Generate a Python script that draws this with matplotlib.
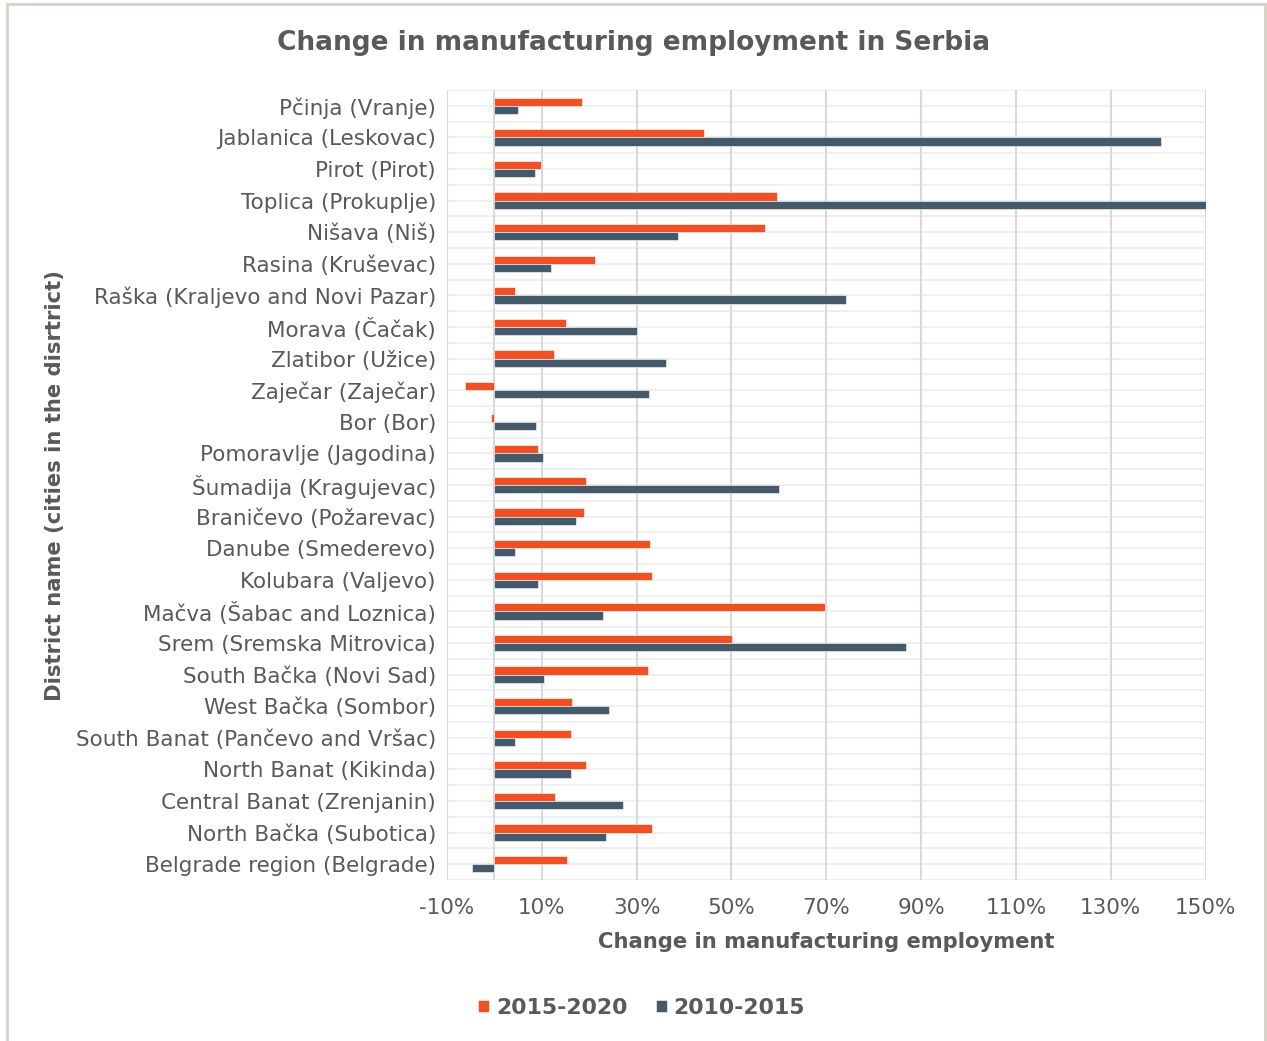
import matplotlib.pyplot as plt
import numpy as np
from matplotlib.patches import Rectangle

districts = ['Pčinja (Vranje)', 'Jablanica (Leskovac)', 'Pirot (Pirot)',
             'Toplica (Prokuplje)', 'Nišava (Niš)', 'Rasina (Kruševac)',
             'Raška (Kraljevo and Novi Pazar)', 'Morava (Čačak)', 'Zlatibor (Užice)',
             'Zaječar (Zaječar)', 'Bor (Bor)', 'Pomoravlje (Jagodina)',
             'Šumadija (Kragujevac)', 'Braničevo (Požarevac)', 'Danube (Smederevo)',
             'Kolubara (Valjevo)', 'Mačva (Šabac and Loznica)', 'Srem (Sremska Mitrovica)',
             'South Bačka (Novi Sad)', 'West Bačka (Sombor)',
             'South Banat (Pančevo and Vršac)', 'North Banat (Kikinda)',
             'Central Banat (Zrenjanin)', 'North Bačka (Subotica)',
             'Belgrade region (Belgrade)']

# percent change per district
chg_2015_2020 = [18.4, 44.3, 9.9, 59.7, 57.1, 21.3, 4.4, 15.1, 12.6, -6.3, -0.7, 9.1,
                 19.4, 18.9, 32.8, 33.3, 69.7, 50.1, 32.4, 16.4, 16.1, 19.3, 12.7,
                 33.3, 15.4]
chg_2010_2015 = [4.9, 140.7, 8.5, 162.0, 38.8, 11.9, 74.1, 30.1, 36.2, 32.6, 8.7, 10.3,
                 60.1, 17.2, 4.4, 9.1, 22.9, 86.9, 10.5, 24.1, 4.4, 16.1, 27.2,
                 23.5, -4.7]

series_labels = ['2015-2020', '2010-2015']
orange = '#f05023'
slate = '#44596a'
txt = '#595959'

plt.rcParams['font.family'] = 'DejaVu Sans'

fig = plt.figure(figsize=(12.67, 10.41), dpi=100)
ax = fig.add_axes([0.3528, 0.1547, 0.5987, 0.7588])

y = np.arange(len(districts))
h = 0.26
ax.barh(y - h / 2, chg_2015_2020, height=h, color=orange, label=series_labels[0],
        edgecolor='white', linewidth=0.4, zorder=3)
ax.barh(y + h / 2, chg_2010_2015, height=h, color=slate, label=series_labels[1],
        edgecolor='white', linewidth=0.4, zorder=3)

ax.set_xlim(-10, 150)
ax.set_ylim(len(districts) - 0.5, -0.5)
ax.set_xticks(np.arange(-10, 151, 20))
ax.set_xticklabels([f'{t}%' for t in range(-10, 151, 20)])
ax.set_yticks(y)
ax.set_yticklabels(districts)

# light row lines at every half category
for yy in np.arange(-0.5, len(districts), 0.5):
    ax.axhline(yy, color='#efefef', linewidth=1.5, zorder=1)
for xx in np.arange(-10, 151, 20):
    ax.axvline(xx, color='#d9d9d9', linewidth=1.5, zorder=2)
ax.axvline(0, color='#d9d9d9', linewidth=1.5, zorder=2)

for s in ax.spines.values():
    s.set_visible(False)
ax.tick_params(axis='both', length=0, colors=txt)
ax.tick_params(axis='x', pad=13, labelsize=15.5)
ax.tick_params(axis='y', pad=8, labelsize=15.5)

ax.set_xlabel('Change in manufacturing employment', fontsize=15.2, fontweight='bold',
              color=txt, labelpad=10)
fig.text(0.0434, 0.534, 'District name (cities in the disrtrict)', rotation=90,
         ha='center', va='center', fontsize=15.2, fontweight='bold', color=txt)

fig.text(0.5, 0.959, 'Change in manufacturing employment in Serbia', ha='center',
         va='center', fontsize=19, fontweight='bold', color=txt)

leg = fig.legend(loc='center', bbox_to_anchor=(0.5063, 0.032), ncol=2, frameon=False,
                 fontsize=15.8, handlelength=0.5, handleheight=0.5,
                 handletextpad=0.3, columnspacing=1.3)
for t in leg.get_texts():
    t.set_color(txt)
    t.set_fontweight('bold')

# outer chart frame
fig.patches.append(Rectangle((7 / 1267, -0.01), 1258 / 1267, 1.0 - 4 / 1041 + 0.01,
                             transform=fig.transFigure, fill=False,
                             edgecolor='#d6d0c4', linewidth=2))

fig.savefig('out.png', dpi=100, facecolor='white')
